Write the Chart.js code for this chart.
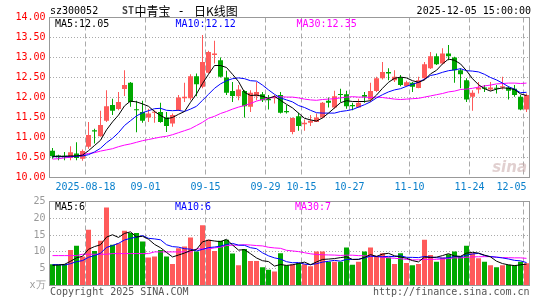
<!DOCTYPE html>
<html><head><meta charset="utf-8">
<script src="https://cdn.jsdelivr.net/npm/chart.js@4.4.1/dist/chart.umd.min.js"></script>
<style>
html,body{margin:0;padding:0;background:#fff;}
#wrap{position:relative;width:545px;height:300px;overflow:hidden;}
canvas{position:absolute;left:0;}
#c1{top:0;} #c2{top:195px;}
</style></head><body>
<div id="wrap"><canvas id="c1" width="545" height="195"></canvas><canvas id="c2" width="545" height="105"></canvas></div>
<script>
// ---------- data ----------
const dates = [
'2025-08-08','2025-08-11','2025-08-12','2025-08-13','2025-08-14','2025-08-15','2025-08-18','2025-08-19','2025-08-20','2025-08-21',
'2025-08-22','2025-08-25','2025-08-26','2025-08-27','2025-08-28','2025-08-29','2025-09-01','2025-09-02','2025-09-03','2025-09-04',
'2025-09-05','2025-09-08','2025-09-09','2025-09-10','2025-09-11','2025-09-12','2025-09-15','2025-09-16','2025-09-17','2025-09-18',
'2025-09-19','2025-09-22','2025-09-23','2025-09-24','2025-09-25','2025-09-26','2025-09-29','2025-09-30','2025-10-09','2025-10-10',
'2025-10-13','2025-10-14','2025-10-15','2025-10-16','2025-10-17','2025-10-20','2025-10-21','2025-10-22','2025-10-23','2025-10-24',
'2025-10-27','2025-10-28','2025-10-29','2025-10-30','2025-10-31','2025-11-03','2025-11-04','2025-11-05','2025-11-06','2025-11-07',
'2025-11-10','2025-11-11','2025-11-12','2025-11-13','2025-11-14','2025-11-17','2025-11-18','2025-11-19','2025-11-20','2025-11-21',
'2025-11-24','2025-11-25','2025-11-26','2025-11-27','2025-11-28','2025-12-01','2025-12-02','2025-12-03','2025-12-04','2025-12-05'];

const openP = [
10.67,10.55,10.53,10.49,10.60,10.47,10.77,11.18,11.03,11.42,
11.81,11.71,12.21,12.37,11.70,11.64,11.50,11.62,11.64,11.50,
11.35,11.68,11.98,11.98,12.53,12.27,12.62,13.06,12.93,12.50,
12.16,12.03,12.16,11.77,12.03,12.08,11.96,11.98,12.06,11.66,
11.14,11.53,11.33,11.37,11.39,11.50,11.92,11.75,12.08,12.08,
11.81,11.75,12.06,11.95,12.16,12.48,12.64,12.43,12.50,12.29,
12.37,12.24,12.48,12.73,13.03,12.85,13.10,13.00,12.68,12.43,
12.02,12.20,12.25,12.20,12.24,12.25,12.25,12.22,12.02,11.70];
const highP = [
10.74,10.57,10.64,10.78,10.88,10.70,11.39,11.22,11.67,12.18,
11.97,12.14,12.68,12.39,11.92,11.92,11.72,11.68,11.87,11.64,
11.60,12.06,12.37,12.58,12.60,13.56,13.17,13.42,13.00,12.67,
12.39,12.31,12.18,12.18,12.39,12.14,12.06,12.06,12.14,11.81,
11.50,11.62,11.45,11.56,11.60,11.89,12.00,12.17,12.22,12.17,
11.87,11.97,12.14,12.37,12.52,12.89,12.73,12.68,12.56,12.42,
12.39,12.52,12.89,13.14,13.10,13.23,13.31,13.02,12.73,12.48,
12.18,12.39,12.31,12.39,12.31,12.52,12.28,12.31,12.06,12.10];
const lowP = [
10.47,10.43,10.43,10.43,10.43,10.42,10.72,10.85,11.02,11.39,
11.56,11.68,12.04,11.77,11.13,11.37,11.39,11.37,11.37,11.14,
11.27,11.66,11.89,11.93,12.03,12.23,12.60,12.85,12.50,12.06,
11.89,11.93,11.50,11.64,11.93,11.89,11.70,11.85,11.60,11.60,
11.08,11.17,11.17,11.29,11.39,11.48,11.75,11.72,11.89,11.72,
11.68,11.75,11.87,11.89,12.14,12.45,12.43,12.39,12.28,12.27,
12.14,12.23,12.43,12.71,12.81,12.83,12.93,12.37,12.23,11.89,
11.67,12.10,12.14,12.17,12.10,12.20,11.95,12.02,11.68,11.64];
const closeP = [
10.53,10.52,10.52,10.63,10.49,10.66,11.06,11.15,11.31,11.78,
11.67,11.89,12.31,11.89,11.68,11.42,11.60,11.64,11.39,11.29,
11.56,12.00,12.02,12.53,12.33,12.89,13.14,13.10,12.52,12.12,
12.04,12.20,11.78,12.12,12.14,11.93,11.93,12.02,11.62,11.63,
11.49,11.29,11.37,11.42,11.50,11.87,11.87,12.03,12.06,11.78,
11.78,11.87,12.02,12.16,12.48,12.64,12.60,12.52,12.31,12.38,
12.27,12.43,12.83,13.03,12.83,13.10,13.03,12.68,12.58,11.95,
12.12,12.25,12.22,12.25,12.22,12.28,12.17,12.06,11.70,12.06];

const ma5 = [
10.53,10.53,10.53,10.54,10.54,10.56,10.67,10.80,10.93,11.19,
11.39,11.56,11.79,11.91,11.89,11.84,11.78,11.65,11.55,11.47,
11.50,11.58,11.65,11.88,12.09,12.35,12.58,12.80,12.80,12.75,
12.58,12.40,12.13,12.05,12.06,12.03,11.98,12.03,11.93,11.83,
11.74,11.61,11.48,11.44,11.41,11.49,11.61,11.74,11.87,11.92,
11.90,11.90,11.90,11.92,12.06,12.23,12.38,12.48,12.51,12.49,
12.42,12.38,12.44,12.59,12.68,12.84,12.96,12.93,12.84,12.67,
12.47,12.32,12.22,12.16,12.21,12.24,12.23,12.20,12.09,12.05];
const ma10 = [
10.52,10.52,10.52,10.52,10.53,10.54,10.57,10.64,10.73,10.87,
10.98,11.12,11.30,11.42,11.54,11.62,11.67,11.72,11.73,11.68,
11.67,11.68,11.65,11.71,11.78,11.93,12.08,12.23,12.34,12.42,
12.47,12.49,12.47,12.42,12.41,12.31,12.19,12.08,11.99,11.94,
11.89,11.80,11.75,11.68,11.62,11.61,11.61,11.61,11.65,11.67,
11.70,11.76,11.82,11.89,11.99,12.07,12.14,12.19,12.22,12.28,
12.33,12.38,12.46,12.55,12.58,12.63,12.67,12.69,12.72,12.67,
12.66,12.64,12.58,12.50,12.44,12.36,12.27,12.21,12.12,12.13];
const ma30 = [
10.46,10.47,10.49,10.51,10.53,10.57,10.60,10.62,10.66,10.69,
10.72,10.77,10.81,10.84,10.88,10.92,10.95,10.98,11.01,11.03,
11.07,11.12,11.17,11.22,11.30,11.38,11.48,11.53,11.60,11.65,
11.71,11.76,11.80,11.85,11.91,11.95,11.98,12.01,12.02,12.01,
12.01,11.99,11.96,11.94,11.93,11.95,11.96,11.97,11.99,12.01,
12.02,12.01,12.01,12.00,12.01,12.00,11.98,11.96,11.95,11.96,
11.97,11.98,12.01,12.04,12.07,12.10,12.14,12.16,12.20,12.21,
12.23,12.26,12.29,12.31,12.34,12.35,12.36,12.36,12.35,12.36];

const volume = [
6.3,6.2,6.3,10.6,11.8,8.6,16.6,10.3,13.3,23.2,
12.1,12.6,16.3,15.6,15.6,13.1,8.3,8.6,10.6,8.6,
6.4,11.1,11.6,14.3,10.1,17.9,13.6,10.3,13.3,13.6,
9.5,6.0,10.9,7.3,7.3,5.4,4.7,4.2,9.6,6.0,
6.3,6.6,6.3,5.7,10.1,10.1,7.1,7.1,7.1,11.3,
6.2,7.1,10.1,11.3,8.6,9.6,8.3,6.4,9.6,6.7,
6.0,6.4,13.6,9.1,7.1,8.3,9.3,10.1,8.6,11.8,
9.6,8.1,7.1,6.0,5.4,6.0,6.2,6.0,7.1,6.6];
const volMa5 = [
6.0,6.1,6.3,7.2,8.24,8.7,10.78,11.58,12.12,14.4,
15.1,14.3,15.5,15.96,14.44,14.64,13.78,12.24,11.24,9.84,
8.5,9.06,9.66,10.4,10.7,13.0,13.5,13.24,13.04,13.74,
12.06,10.54,10.66,9.46,8.2,7.38,7.12,5.78,6.24,5.98,
6.16,6.54,6.96,6.18,7.0,7.76,7.86,8.02,8.3,8.54,
7.76,7.76,8.36,9.2,8.66,9.34,9.58,8.84,8.5,8.12,
7.4,7.02,8.46,8.36,8.44,8.9,9.48,8.78,8.68,9.62,
9.88,9.64,9.04,8.52,7.24,6.52,6.14,5.92,6.14,6.38];
const volMa10 = [
6.2,6.2,6.1,6.5,7.1,7.4,8.4,8.9,9.6,11.32,
11.9,12.54,13.54,14.04,14.42,14.87,14.04,13.87,13.6,12.14,
11.57,11.42,10.95,10.82,10.27,10.75,11.28,11.45,11.72,12.22,
12.53,12.02,11.95,11.25,10.97,9.72,8.83,8.22,7.85,7.09,
6.77,6.83,6.37,6.21,6.49,6.96,7.2,7.49,7.24,7.77,
7.76,7.81,8.19,8.75,8.6,8.55,8.67,8.6,8.85,8.39,
8.37,8.3,8.65,8.43,8.28,8.15,8.25,8.62,8.52,9.03,
9.39,9.56,8.91,8.6,8.43,8.2,7.89,7.49,7.34,6.82];
const volMa30 = [
8.9,8.9,8.9,8.9,8.9,9.3,9.3,9.3,9.3,9.3,
9.5,9.5,9.5,9.5,9.5,9.5,9.5,10.0,10.0,10.0,
10.0,10.0,10.0,10.0,10.9,10.9,10.9,11.2,11.4,11.89,
12.0,11.99,12.15,12.04,11.89,11.78,11.38,11.18,11.06,10.48,
10.29,10.09,9.76,9.43,9.24,9.14,9.10,9.05,8.94,9.03,
9.02,8.89,8.84,8.74,8.69,8.41,8.23,8.10,7.98,7.75,
7.63,7.65,7.74,7.80,7.79,7.89,8.04,8.24,8.20,8.40,
8.51,8.56,8.58,8.59,8.44,8.30,8.27,8.23,8.23,8.08];

const priceTicks = [10,10.5,11,11.5,12,12.5,13,13.5,14];
const volTicks = [0,5,10,15,20,25];
const tickDates = ['2025-08-18','2025-09-01','2025-09-15','2025-09-29','2025-10-15','2025-10-27','2025-11-10','2025-11-24','2025-12-05'];
const tickText  = ['2025-08-18','09-01','09-15','09-29','10-15','10-27','11-10','11-24','12-05'];

// ---------- style ----------
const RED = '#ff5a5a', GREEN = '#00a800';
const GRID = '#aaaaaa', FRAME = '#999999';
const MONO = 'DejaVu Sans Mono';
const CJK = '"Noto Sans CJK SC"';

const up = closeP.map((c, i) => c >= openP[i]);
const colors = up.map(u => u ? RED : GREEN);
const tickIndex = {};
tickDates.forEach((d, k) => { tickIndex[dates.indexOf(d)] = k; });
const isTick = i => tickIndex[i] !== undefined;

Chart.defaults.font.family = MONO;
Chart.defaults.font.size = 10;

function frame(textFn) {
  return {
    id: 'frame',
    afterDraw(chart) {
      const {ctx, chartArea: a} = chart;
      ctx.save();
      ctx.strokeStyle = FRAME; ctx.lineWidth = 1;
      ctx.strokeRect(a.left, a.top, a.right - a.left, a.bottom - a.top);
      textFn(ctx, a);
      ctx.restore();
    }
  };
}
function txt(ctx, s, x, y, color, font, align) {
  ctx.font = font; ctx.fillStyle = color; ctx.textAlign = align || 'left'; ctx.textBaseline = 'middle';
  ctx.fillText(s, x, y);
}
const lineDs = (data, color) => ({type: 'line', data, borderColor: color, borderWidth: 1, pointRadius: 0, tension: 0, order: 0});
const xGridColor = c => (c.index !== undefined && isTick(c.index)) ? GRID : 'rgba(0,0,0,0)';

// ---------- price chart ----------
new Chart(document.getElementById('c1'), {
  type: 'bar',
  data: {
    labels: dates,
    datasets: [
      lineDs(ma5, '#000000'),
      lineDs(ma10, '#0000ff'),
      lineDs(ma30, '#ff00ff'),
      {data: openP.map((o, i) => [o, closeP[i]]), backgroundColor: colors, barThickness: 5, grouped: false, minBarLength: 1, inflateAmount: 0, borderWidth: 0, order: 1},
      {data: lowP.map((l, i) => [l, highP[i]]), backgroundColor: colors, barThickness: 1, grouped: false, inflateAmount: 0, borderWidth: 0, order: 2}
    ]
  },
  options: {
    responsive: false, animation: false, events: [],
    layout: {padding: {left: 0, right: 15.5, top: 17.5, bottom: 0}},
    plugins: {legend: {display: false}, tooltip: {enabled: false}},
    scales: {
      x: {
        offset: true,
        grid: {offset: true, color: xGridColor, drawTicks: false, lineWidth: 1},
        border: {display: false, dash: [5, 3]},
        ticks: {
          autoSkip: false, maxRotation: 0, minRotation: 0, padding: 4, labelOffset: -3,
          color: '#0a80cc', font: {family: MONO, size: 10},
          callback: (v, i) => isTick(i) ? (i === dates.length - 1 ? tickText[tickIndex[i]] + '    ' : tickText[tickIndex[i]]) : ''
        },
        afterFit: s => { s.height = 17.5; s.paddingLeft = 0; s.paddingRight = 0; }
      },
      y: {
        min: 10, max: 14,
        afterBuildTicks: s => { s.ticks = priceTicks.map(v => ({value: v})); },
        ticks: {color: '#ff0000', padding: 4, font: {family: MONO, size: 10}, callback: v => Number(v).toFixed(2)},
        grid: {color: GRID, drawTicks: false, lineWidth: 1},
        border: {display: false, dash: [1, 2]},
        afterFit: s => { s.width = 49.5; s.paddingTop = 0; s.paddingBottom = 0; }
      }
    }
  },
  plugins: [frame((ctx, a) => {
    txt(ctx, 'sz300052', 50, 11.5, '#000', '10px ' + MONO);
    txt(ctx, 'ST', 122, 11.5, '#444', 'bold 10px ' + MONO);
    txt(ctx, '中青宝', 134.5, 11.5, '#000', '12px ' + CJK);
    txt(ctx, '-', 181, 11.5, '#000', '12px ' + MONO, 'center');
    txt(ctx, '日K线图', 194, 11.5, '#000', '12px ' + CJK);
    txt(ctx, '2025-12-05 15:00:00', 531, 11.5, '#000', '10px ' + MONO, 'right');
    txt(ctx, 'MA5:12.05', 55, 24.5, '#000', '10px ' + MONO);
    txt(ctx, 'MA10:12.12', 175.5, 24.5, '#0000ff', '10px ' + MONO);
    txt(ctx, 'MA30:12.35', 296.5, 24.5, '#ff00ff', '10px ' + MONO);
    txt(ctx, 'sina', 527, 168, 'rgba(200,170,170,0.55)', 'italic bold 15px "DejaVu Sans"', 'right');
  })]
});

// ---------- volume chart ----------
new Chart(document.getElementById('c2'), {
  type: 'bar',
  data: {
    labels: dates,
    datasets: [
      lineDs(volMa5, '#000000'),
      lineDs(volMa10, '#0000ff'),
      lineDs(volMa30, '#ff00ff'),
      {data: volume, backgroundColor: colors, barThickness: 5, grouped: false, inflateAmount: 0, borderWidth: 0, order: 1}
    ]
  },
  options: {
    responsive: false, animation: false, events: [],
    layout: {padding: {left: 0, right: 15.5, top: 6.5, bottom: 0}},
    plugins: {legend: {display: false}, tooltip: {enabled: false}},
    scales: {
      x: {
        offset: true,
        grid: {offset: true, color: xGridColor, drawTicks: false, lineWidth: 1},
        border: {display: false, dash: [5, 3]},
        ticks: {display: false},
        afterFit: s => { s.height = 14.5; s.paddingLeft = 0; s.paddingRight = 0; }
      },
      y: {
        min: 0, max: 25,
        afterBuildTicks: s => { s.ticks = volTicks.map(v => ({value: v})); },
        ticks: {color: '#999999', padding: 4, font: {family: MONO, size: 10}, callback: v => v === 0 ? 'x万' : String(v)},
        grid: {color: c => (c.tick && (c.tick.value === 0 || c.tick.value === 25)) ? 'rgba(0,0,0,0)' : GRID, drawTicks: false, lineWidth: 1},
        border: {display: false, dash: [1, 2]},
        afterFit: s => { s.width = 49.5; s.paddingTop = 0; s.paddingBottom = 0; }
      }
    }
  },
  plugins: [frame((ctx, a) => {
    txt(ctx, 'MA5:6', 55, 12.3, '#000', '10px ' + MONO);
    txt(ctx, 'MA10:6', 175, 12.3, '#0000ff', '10px ' + MONO);
    txt(ctx, 'MA30:7', 295, 12.3, '#ff00ff', '10px ' + MONO);
    txt(ctx, 'Copyright 2025 SINA.COM', 50, 97.7, '#555', '10px ' + MONO);
    txt(ctx, 'http://finance.sina.com.cn', 529.5, 97.7, '#555', '10px ' + MONO, 'right');
  })]
});
</script>
</body></html>
